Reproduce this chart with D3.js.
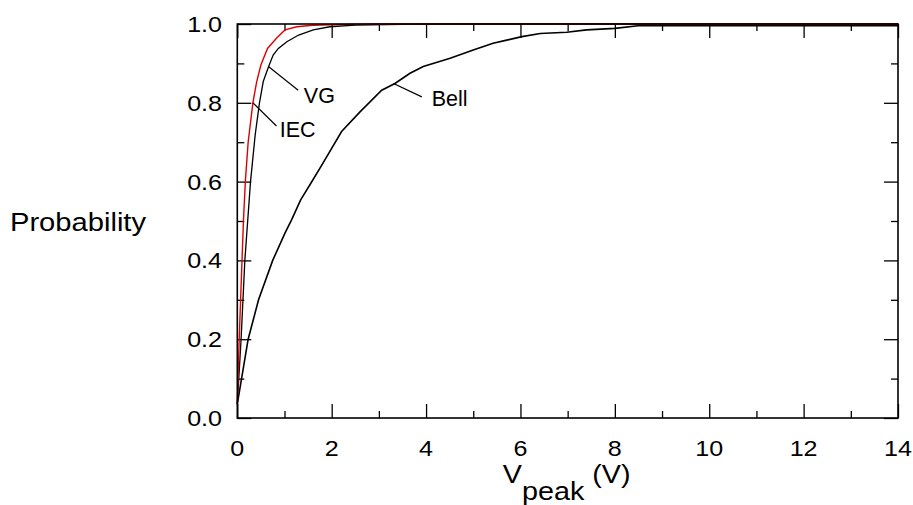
<!DOCTYPE html>
<html>
<head>
<meta charset="utf-8">
<script src="https://cdn.jsdelivr.net/npm/d3@7"></script>
<style>
  body { margin: 0; background: #fff; }
  text { font-family: "Liberation Sans", Arial, sans-serif; fill: #000; }
</style>
</head>
<body>
<svg id="chart" width="913" height="505"></svg>
<script>
var iecPts = [[0, 0.035], [0.04, 0.2], [0.07, 0.3], [0.1, 0.4], [0.13, 0.5], [0.17, 0.6],
  [0.23, 0.7], [0.33, 0.8], [0.41, 0.853], [0.5, 0.896], [0.64, 0.938], [0.83, 0.964],
  [1.01, 0.985], [1.26, 0.993], [1.6, 0.997], [2.4, 0.999], [3, 1], [14, 1]];
var vgPts = [[0, 0.035], [0.08, 0.2], [0.16, 0.4], [0.28, 0.6], [0.38, 0.72], [0.47, 0.8],
  [0.55, 0.854], [0.66, 0.891], [0.76, 0.921], [0.87, 0.938], [1.05, 0.955], [1.3, 0.972],
  [1.61, 0.985], [1.96, 0.993], [2.5, 0.997], [3.5, 0.999], [4.7, 1], [14, 1]];
var bellPts = [[0, 0.035], [0.23, 0.2], [0.45, 0.3], [0.75, 0.4], [1.01, 0.469], [1.15, 0.503],
  [1.34, 0.553], [1.6, 0.604], [1.79, 0.642], [2.21, 0.727], [2.6, 0.777], [3.06, 0.832],
  [3.34, 0.849], [3.66, 0.875], [3.94, 0.892], [4.51, 0.913], [5.0, 0.934], [5.42, 0.951],
  [5.71, 0.959], [6.03, 0.968], [6.42, 0.976], [6.98, 0.979], [7.4, 0.985], [8.0, 0.989],
  [8.54, 0.996], [14, 0.996]];

var xTicks = [0, 2, 4, 6, 8, 10, 12, 14];
var xMinor = [1, 3, 5, 7, 9, 11, 13];
var yTicks = [0, 0.2, 0.4, 0.6, 0.8, 1.0];
var yMinor = [0.1, 0.3, 0.5, 0.7, 0.9];

// curve labels: [name, leader start, leader end, text pos] in data units
var notes = [
  ["VG", [0.66, 0.892], [1.29, 0.832], [1.41, 0.800]],
  ["IEC", [0.33, 0.80], [0.83, 0.741], [0.90, 0.714]],
  ["Bell", [3.31, 0.849], [3.91, 0.815], [4.12, 0.793]]
];

var svg = d3.select("#chart");
var L = 237.3, R = 898, T = 24, B = 418;

var x = d3.scaleLinear().domain([0, 14]).range([L, R]);
var y = d3.scaleLinear().domain([0, 1]).range([B, T]);

function ticks(axis, vals, size, tr) {
  svg.append("g")
    .attr("transform", tr)
    .call(axis.tickValues(vals).tickSize(-size).tickSizeOuter(0).tickFormat(""))
    .call(function(g) {
      g.select(".domain").remove();
      g.selectAll("line").attr("stroke", "#000").attr("stroke-width", 1.3);
    });
}
ticks(d3.axisBottom(x), xTicks, 14, "translate(0," + B + ")");
ticks(d3.axisBottom(x), xMinor, 7, "translate(0," + B + ")");
ticks(d3.axisTop(x), xTicks, 14, "translate(0," + T + ")");
ticks(d3.axisTop(x), xMinor, 7, "translate(0," + T + ")");
ticks(d3.axisLeft(y), yTicks, 14, "translate(" + L + ",0)");
ticks(d3.axisLeft(y), yMinor, 7, "translate(" + L + ",0)");
ticks(d3.axisRight(y), yTicks, 14, "translate(" + R + ",0)");
ticks(d3.axisRight(y), yMinor, 7, "translate(" + R + ",0)");

var line = d3.line()
  .x(function(d) { return x(d[0]); })
  .y(function(d) { return y(d[1]); });

svg.append("path").datum(bellPts).attr("d", line)
  .attr("fill", "none").attr("stroke", "#000").attr("stroke-width", 1.6);
svg.append("path").datum(vgPts).attr("d", line)
  .attr("fill", "none").attr("stroke", "#000").attr("stroke-width", 1.3);
svg.append("path").datum(iecPts).attr("d", line)
  .attr("fill", "none").attr("stroke", "#e00000").attr("stroke-width", 1.4);

svg.append("rect")
  .attr("x", L).attr("y", T).attr("width", R - L).attr("height", B - T)
  .attr("fill", "none").attr("stroke", "#000").attr("stroke-width", 1.6);

// tick labels
svg.selectAll(".xl").data(xTicks).enter().append("text")
  .attr("class", "xl")
  .attr("transform", function(d) { return "translate(" + x(d) + "," + (B + 38) + ") scale(1.14,1)"; })
  .attr("text-anchor", "middle")
  .style("font-size", "22px")
  .text(function(d) { return d; });

svg.selectAll(".yl").data(yTicks).enter().append("text")
  .attr("class", "yl")
  .attr("transform", function(d) { return "translate(222," + (y(d) + 8) + ") scale(1.14,1)"; })
  .attr("text-anchor", "end")
  .style("font-size", "22px")
  .text(function(d) { return d3.format(".1f")(d); });

// axis titles
var xt = svg.append("text")
  .attr("transform", "translate(" + ((L + R) / 2 - 1) + ",483) scale(1.15,1)")
  .attr("text-anchor", "middle")
  .style("font-size", "25px");
xt.append("tspan").text("V");
xt.append("tspan").attr("dy", 17).text("peak");
xt.append("tspan").attr("dy", -17).text(" (V)");

svg.append("text")
  .attr("transform", "translate(78,231) scale(1.1,1)")
  .attr("text-anchor", "middle")
  .style("font-size", "26.5px")
  .text("Probability");

// curve labels
notes.forEach(function(n) {
  svg.append("line")
    .attr("x1", x(n[1][0])).attr("y1", y(n[1][1]))
    .attr("x2", x(n[2][0])).attr("y2", y(n[2][1]))
    .attr("stroke", "#000").attr("stroke-width", 1.2);
  svg.append("text")
    .attr("x", x(n[3][0])).attr("y", y(n[3][1]))
    .style("font-size", "21.5px")
    .text(n[0]);
});
</script>
</body>
</html>
